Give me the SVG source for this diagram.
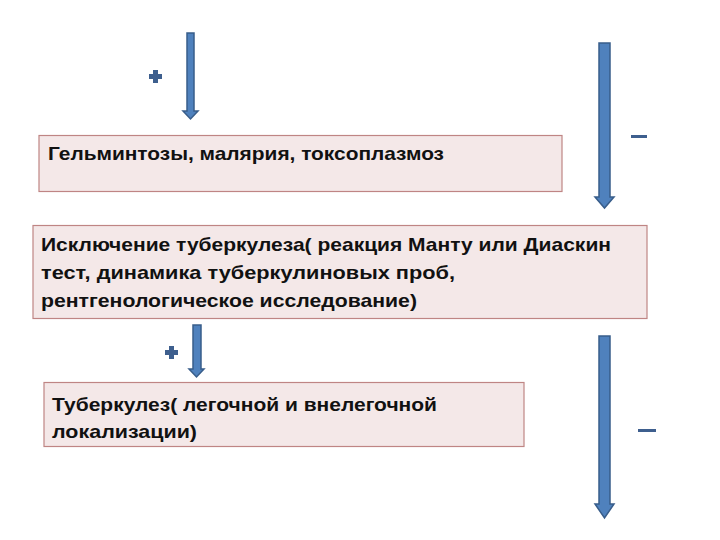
<svg xmlns="http://www.w3.org/2000/svg" width="720" height="540" viewBox="0 0 720 540">
<style>
.box{fill:#F4E8E8;stroke:#BF8584;stroke-width:1.2}
.t{font-family:"Liberation Sans",Arial,sans-serif;font-weight:bold;font-size:19px;fill:#111}
.arr{fill:#4F81BD;stroke:#385D8A;stroke-width:1.5;stroke-linejoin:miter}
.sign{fill:#3E5F8E}
</style>
<rect width="720" height="540" fill="#FFFFFF"/>
<g id="connectors">
<path class="arr" d="M187,33 H194 V111 H198 L190.5,119 L183,111 H187 Z"/>
<path class="arr" d="M599,43 H610 V197 H614 L604.5,208 L595,197 H599 Z"/>
<path class="arr" d="M193,325 H201 V369 H204 L196.5,377 L189,369 H193 Z"/>
<path class="arr" d="M599,336 H610 V504 H614 L604.5,518 L595,504 H599 Z"/>
</g>
<g id="sign-plus-1"><path class="sign" d="M153,70 H158 V74 H162 V79 H158 V83 H153 V79 H149 V74 H153 Z"/></g>
<g id="sign-plus-2"><path class="sign" d="M169,346 H174 V350 H178 V355 H174 V359 H169 V355 H165 V350 H169 Z"/></g>
<g id="sign-minus-1"><rect class="sign" x="631" y="135" width="16" height="3"/></g>
<g id="sign-minus-2"><rect class="sign" x="638" y="429" width="18" height="3"/></g>
<g id="node-helminth">
<rect class="box" x="39" y="135.5" width="523" height="56"/>
<text class="t" x="48" y="160" textLength="396" lengthAdjust="spacingAndGlyphs">Гельминтозы, малярия, токсоплазмоз</text>
</g>
<g id="node-exclusion">
<rect class="box" x="33" y="225.5" width="614" height="93"/>
<text class="t" x="41" y="251" textLength="570" lengthAdjust="spacingAndGlyphs">Исключение туберкулеза( реакция Манту или Диаскин</text>
<text class="t" x="41" y="279" textLength="414" lengthAdjust="spacingAndGlyphs">тест, динамика туберкулиновых проб,</text>
<text class="t" x="41" y="307" textLength="376" lengthAdjust="spacingAndGlyphs">рентгенологическое исследование)</text>
</g>
<g id="node-tb">
<rect class="box" x="44" y="382.5" width="480" height="64"/>
<text class="t" x="52" y="411" textLength="385" lengthAdjust="spacingAndGlyphs">Туберкулез( легочной и внелегочной</text>
<text class="t" x="52" y="438" textLength="145" lengthAdjust="spacingAndGlyphs">локализации)</text>
</g>
</svg>
